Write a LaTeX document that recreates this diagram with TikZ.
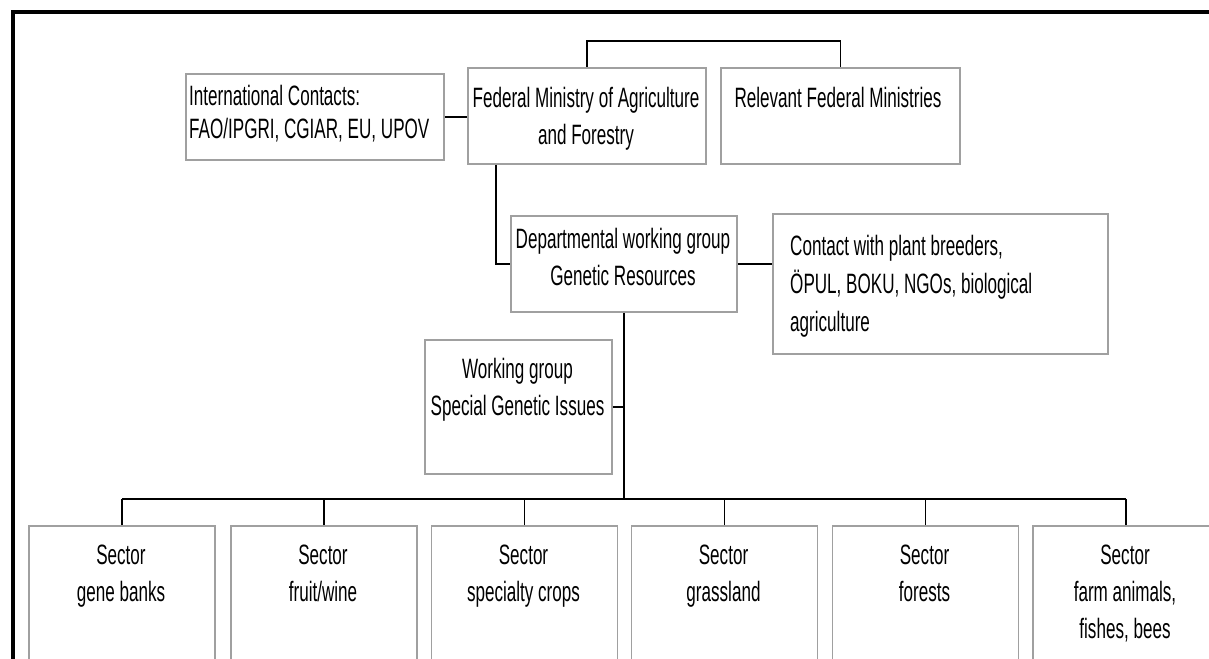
\documentclass[tikz,border=0pt]{standalone}
\usepackage{fontspec}
\setmainfont{Liberation Sans}[FakeStretch=0.61]
\definecolor{boxgray}{RGB}{160,160,160}
\begin{document}
\begin{tikzpicture}[x=1pt,y=-1pt,
  box/.style={draw=boxgray,line width=1.8pt,inner sep=0pt,anchor=north west},
  conn/.style={draw=black,line width=1.6pt},
  lbl/.style={inner sep=0pt,font=\fontsize{28}{37}\selectfont,align=center,anchor=base},
  lbll/.style={inner sep=0pt,font=\fontsize{28}{38}\selectfont,align=left,anchor=base west},
  sector/.style={box,minimum width=186pt,minimum height=200pt}]
\useasboundingbox (0,0) rectangle (1209,658);
\clip (0,0) rectangle (1209,658);
\fill[white] (0,0) rectangle (1209,658);
\draw[line width=4pt] (12.5,700) -- (12.5,12.5) -- (1260,12.5);
% boxes
\node[box,minimum width=258pt,minimum height=86pt] (intl) at (185,73) {};
\node[box,minimum width=238pt,minimum height=96pt] (fed) at (467,67) {};
\node[box,minimum width=239pt,minimum height=96pt] (rel) at (720,67) {};
\node[box,minimum width=226pt,minimum height=96pt] (dept) at (510,215) {};
\node[box,minimum width=335pt,minimum height=140pt] (cont) at (772,213) {};
\node[box,minimum width=187pt,minimum height=134pt] (wg) at (424,339) {};
\node[sector] (s1) at (28,525) {};
\node[sector] (s2) at (230,525) {};
\node[sector] (s3) at (430.5,525) {};
\node[sector] (s4) at (630.5,525) {};
\node[sector] (s5) at (831.5,525) {};
\node[sector] (s6) at (1032,525) {};
% texts (anchor = baseline of the last line)
\node[lbll,font=\fontsize{28}{33}\selectfont] (tintl) at (189,139) {International Contacts:\\FAO/IPGRI, CGIAR, EU, UPOV};
\node[lbl] (tfed) at (586,144) {Federal Ministry of Agriculture\\and Forestry};
\node[lbl] (trel) at (838,107) {Relevant Federal Ministries};
\node[lbl] (tdept) at (623,285) {Departmental working group\\Genetic Resources};
\node[lbll] (tcont) at (790,331) {Contact with plant breeders,\\ÖPUL, BOKU, NGOs, biological\\agriculture};
\node[lbl] (twg) at (517.5,415) {Working group\\Special Genetic Issues};
\node[lbl] (ts1) at (121,601) {Sector\\gene banks};
\node[lbl] (ts2) at (323,601) {Sector\\fruit/wine};
\node[lbl] (ts3) at (523.5,601) {Sector\\specialty crops};
\node[lbl] (ts4) at (723.5,601) {Sector\\grassland};
\node[lbl] (ts5) at (924.5,601) {Sector\\forests};
\node[lbl] (ts6) at (1125,638) {Sector\\farm animals,\\fishes, bees};
% connectors
\coordinate (topbar) at (700,41);
\coordinate (bus) at (624,499);
\draw[conn] (intl.east) -- (intl.east -| fed.west);
\draw[conn] (fed.north) |- (rel.north |- topbar) -- (rel.north);
\draw[conn] ([xshift=29pt]fed.south west) |- (dept.west);
\draw[conn] (dept.east) -- (dept.east -| cont.west);
\draw[conn] (dept.south) -- (dept.south |- bus);
\draw[conn] (wg.east) -- (wg.east -| dept.south);
\draw[conn] (s1.north |- bus) -- (s6.north |- bus);
\foreach \s in {s1,s2,s3,s4,s5,s6} \draw[conn] (\s.north) -- (\s.north |- bus);
\end{tikzpicture}
\end{document}
